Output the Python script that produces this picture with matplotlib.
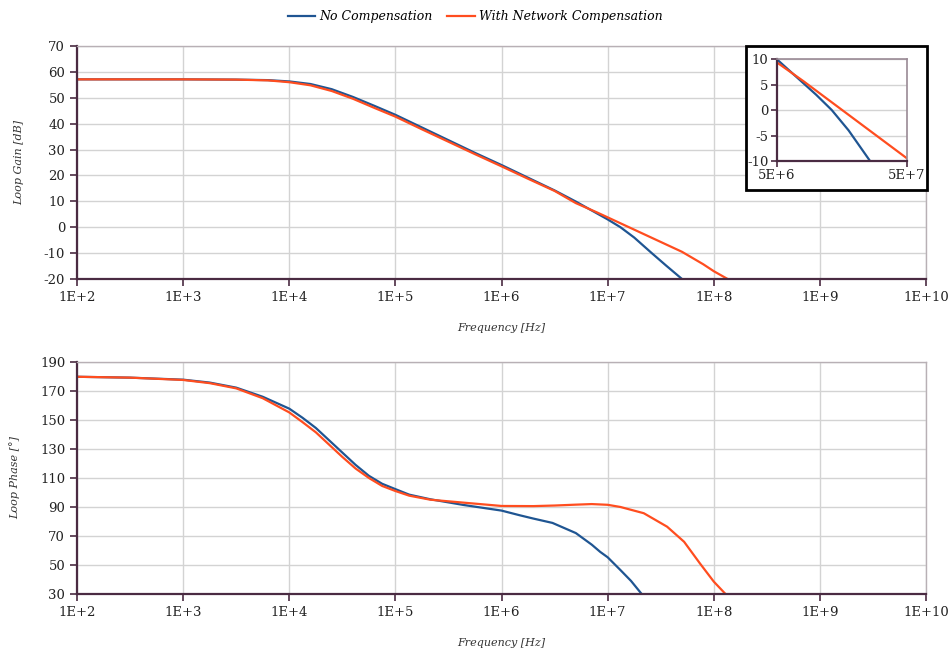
import numpy as np
import matplotlib
matplotlib.use('Agg')
import matplotlib.pyplot as plt
from matplotlib.patches import Rectangle

plt.rcParams['font.family'] = ['DejaVu Serif']
plt.rcParams['axes.unicode_minus'] = False

# log10(frequency) and loop gain [dB]
gain_nc_logf = [2, 3, 3.5, 3.8, 4, 4.2, 4.4, 4.6, 4.8, 5, 5.25, 5.5, 5.75, 6, 6.25, 6.5,
                6.7, 6.9, 7.0, 7.12, 7.25, 7.415, 7.55, 7.7]
gain_nc = [57.1, 57.1, 57.0, 56.8, 56.3, 55.3, 53.3, 50.3, 46.9, 43.4, 38.5, 33.6, 28.7, 24.0,
           19.1, 14.2, 9.9, 5.3, 3.0, 0.0, -4.0, -10.0, -14.8, -20.0]
gain_wc_logf = [2, 3, 3.5, 3.8, 4, 4.2, 4.4, 4.6, 4.8, 5, 5.25, 5.5, 5.75, 6, 6.25, 6.5,
                6.7, 6.9, 7.0, 7.2, 7.4, 7.7, 7.9, 8.0, 8.13]
gain_wc = [57.1, 57.1, 57.0, 56.7, 56.0, 54.8, 52.6, 49.6, 46.1, 42.7, 37.8, 33.0, 28.2, 23.5,
           18.7, 14.0, 9.3, 5.7, 3.8, 0.0, -3.8, -9.5, -14.3, -17.0, -20.0]

# log10(frequency) and loop phase [deg]
phase_nc_logf = [2, 2.5, 3, 3.25, 3.5, 3.75, 4, 4.125, 4.25, 4.375, 4.5, 4.625, 4.75, 4.875,
                 5, 5.13, 5.33, 5.64, 6, 6.17, 6.3, 6.48, 6.7, 6.85, 6.93, 7, 7.12, 7.22, 7.32]
phase_nc = [179.8, 179.2, 177.8, 175.8, 172.3, 166, 157.8, 151.5, 144.5, 136, 127.5, 119, 111.5,
            106, 102.3, 98.5, 95.3, 91.4, 87.5, 84.3, 82, 79, 72, 64, 59, 55.3, 46.5, 39, 30]
phase_wc_logf = [2, 2.5, 3, 3.25, 3.5, 3.75, 4, 4.125, 4.25, 4.375, 4.5, 4.625, 4.75, 4.875,
                 5, 5.13, 5.33, 5.64, 6, 6.3, 6.5, 6.7, 6.85, 7, 7.12, 7.34, 7.56, 7.72, 7.87,
                 8.0, 8.11]
phase_wc = [179.8, 179.2, 177.6, 175.4, 171.8, 165, 155.2, 148.5, 141.5, 133, 124.5, 116.5, 110,
            104.5, 101, 97.8, 95, 93, 90.7, 90.6, 91, 91.6, 92, 91.5, 90, 85.7, 76.4, 66, 51,
            38.5, 30]

blue = '#1f5592'
orange = '#ff4d1f'
spine_c = '#4a2b42'
grid_c = '#d3d3d3'
label_c = '#333333'

fig = plt.figure(figsize=(9.5, 6.5), dpi=100)

def style(ax, yticks):
    ax.set_xscale('log')
    ax.set_xlim(1e2, 1e10)
    ax.set_xticks([10.0 ** k for k in range(2, 11)])
    ax.set_xticklabels(['1E+%d' % k for k in range(2, 11)])
    ax.minorticks_off()
    ax.set_yticks(yticks)
    ax.set_ylim(yticks[0], yticks[-1])
    ax.grid(True, color=grid_c, lw=1)
    ax.set_axisbelow(True)
    for s in ['left', 'bottom']:
        ax.spines[s].set_color(spine_c)
        ax.spines[s].set_linewidth(1.6)
    for s in ['top', 'right']:
        ax.spines[s].set_color('#b8b0b5')
        ax.spines[s].set_linewidth(1)
    ax.tick_params(axis='both', direction='out', length=5, width=1.2, color=spine_c,
                   labelsize=9.5, labelcolor='#222222')
    ax.set_xlabel('Frequency [Hz]', fontsize=8, style='italic', color=label_c, labelpad=14)

ax1 = fig.add_axes([0.0811, 0.5708, 0.8937, 0.3585])
l1, = ax1.plot(10 ** np.array(gain_nc_logf), gain_nc, color=blue, lw=1.6, label='No Compensation')
l2, = ax1.plot(10 ** np.array(gain_wc_logf), gain_wc, color=orange, lw=1.6,
               label='With Network Compensation')
style(ax1, list(range(-20, 71, 10)))
ax1.set_ylabel('Loop Gain [dB]', fontsize=8, style='italic', color=label_c, labelpad=14)

ax2 = fig.add_axes([0.0811, 0.0862, 0.8937, 0.3569])
ax2.plot(10 ** np.array(phase_nc_logf), phase_nc, color=blue, lw=1.6)
ax2.plot(10 ** np.array(phase_wc_logf), phase_wc, color=orange, lw=1.6)
style(ax2, list(range(30, 191, 20)))
ax2.set_ylabel('Loop Phase [°]', fontsize=8, style='italic', color=label_c, labelpad=14)

fig.legend(handles=[l1, l2], loc='center', bbox_to_anchor=(0.5, 0.974), ncol=2, frameon=False,
           prop={'size': 9, 'style': 'italic'}, handlelength=2.2, columnspacing=1.2,
           handletextpad=0.3)

# inset zoom on the crossover region
box = Rectangle((0.7853, 0.7077), 0.1905, 0.2215, transform=fig.transFigure,
                facecolor='white', edgecolor='black', lw=2, zorder=3)
fig.patches.append(box)
ax3 = fig.add_axes([0.8179, 0.7523, 0.1368, 0.1569], zorder=4)
ax3.plot(10 ** np.array(gain_nc_logf), gain_nc, color=blue, lw=1.6)
ax3.plot(10 ** np.array(gain_wc_logf), gain_wc, color=orange, lw=1.6)
ax3.set_xscale('log')
ax3.set_xlim(5e6, 5e7)
ax3.set_ylim(-10, 10)
ax3.minorticks_off()
ax3.set_xticks([5e6, 5e7])
ax3.set_xticklabels(['5E+6', '5E+7'])
ax3.set_yticks([-10, -5, 0, 5, 10])
ax3.grid(True, axis='y', color=grid_c, lw=1)
ax3.set_axisbelow(True)
for s in ['left', 'bottom']:
    ax3.spines[s].set_color(spine_c)
    ax3.spines[s].set_linewidth(1.6)
for s in ['top', 'right']:
    ax3.spines[s].set_color('#9a8a95')
    ax3.spines[s].set_linewidth(1.2)
ax3.tick_params(axis='both', direction='out', length=4, width=1.2, color=spine_c,
                labelsize=9.5, labelcolor='#222222', pad=2)

fig.savefig('out.png', dpi=100)
